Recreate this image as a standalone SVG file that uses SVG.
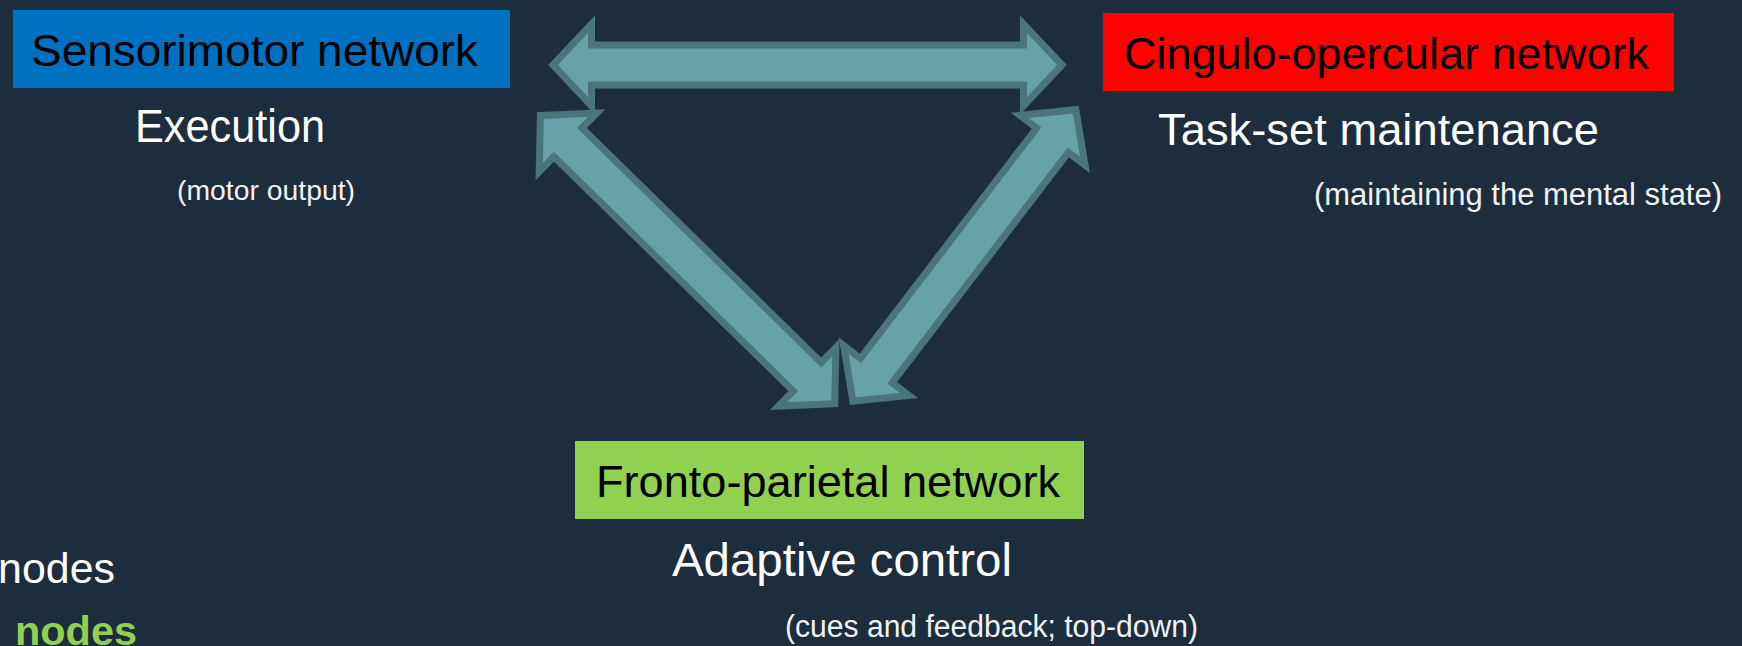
<svg xmlns="http://www.w3.org/2000/svg" width="1742" height="646" viewBox="0 0 1742 646">
<style>
.bg{fill:#1c2d3e}
.arrow{fill:#67a2ab;stroke:#4a757d;stroke-width:7;stroke-linejoin:miter;stroke-miterlimit:10}
.title{font-family:"Liberation Sans",Arial,sans-serif;fill:#000000}
.main{font-family:"Liberation Sans",Arial,sans-serif;fill:#ffffff}
.sub{font-family:"Liberation Sans",Arial,sans-serif;fill:#f2f2f2}
</style>
<rect class="bg" x="0" y="0" width="1742" height="646"/>
<g id="connectors">
<path class="arrow" transform="translate(553,65)" d="M0,0 L38.5,-41 L38.5,-20 L470.5,-20 L470.5,-41 L509,0 L470.5,41 L470.5,20 L38.5,20 L38.5,41 Z"/>
<path class="arrow" transform="translate(540.4,115.4) rotate(44.4)" d="M0,0 L38.5,-41 L38.5,-20 L373.5,-20 L373.5,-41 L412,0 L373.5,41 L373.5,20 L38.5,20 L38.5,41 Z"/>
<path class="arrow" transform="translate(852.9,401.2) rotate(-52.6)" d="M0,0 L38.5,-41 L38.5,-20 L328.5,-20 L328.5,-41 L367,0 L328.5,41 L328.5,20 L38.5,20 L38.5,41 Z"/>
</g>
<g id="sensorimotor">
<rect x="13" y="10" width="497" height="78" fill="#0070c0"/>
<text class="title" x="31" y="66" font-size="45" textLength="447" lengthAdjust="spacingAndGlyphs">Sensorimotor network</text>
<text class="main" x="135" y="142" font-size="46" textLength="190" lengthAdjust="spacingAndGlyphs">Execution</text>
<text class="sub" x="177" y="200" font-size="28" textLength="178" lengthAdjust="spacingAndGlyphs">(motor output)</text>
</g>
<g id="cingulo-opercular">
<rect x="1103" y="13" width="571" height="78" fill="#ff0000"/>
<text class="title" x="1124" y="69" font-size="45" textLength="525" lengthAdjust="spacingAndGlyphs">Cingulo-opercular network</text>
<text class="main" x="1158" y="145" font-size="44" textLength="441" lengthAdjust="spacingAndGlyphs">Task-set maintenance</text>
<text class="sub" x="1314" y="205" font-size="31" textLength="408" lengthAdjust="spacingAndGlyphs">(maintaining the mental state)</text>
</g>
<g id="fronto-parietal">
<rect x="575" y="441" width="509" height="78" fill="#92d050"/>
<text class="title" x="596" y="497" font-size="45" textLength="464" lengthAdjust="spacingAndGlyphs">Fronto-parietal network</text>
<text class="main" x="672" y="576" font-size="46" textLength="340" lengthAdjust="spacingAndGlyphs">Adaptive control</text>
<text class="sub" x="785" y="637" font-size="31" textLength="413" lengthAdjust="spacingAndGlyphs">(cues and feedback; top-down)</text>
</g>
<g id="legend">
<text class="main" x="-2" y="583" font-size="43" textLength="117" lengthAdjust="spacingAndGlyphs">nodes</text>
<text x="15" y="645" font-size="41" font-weight="bold" fill="#92d050" font-family="Liberation Sans, Arial, sans-serif" textLength="122" lengthAdjust="spacingAndGlyphs">nodes</text>
</g>
</svg>
